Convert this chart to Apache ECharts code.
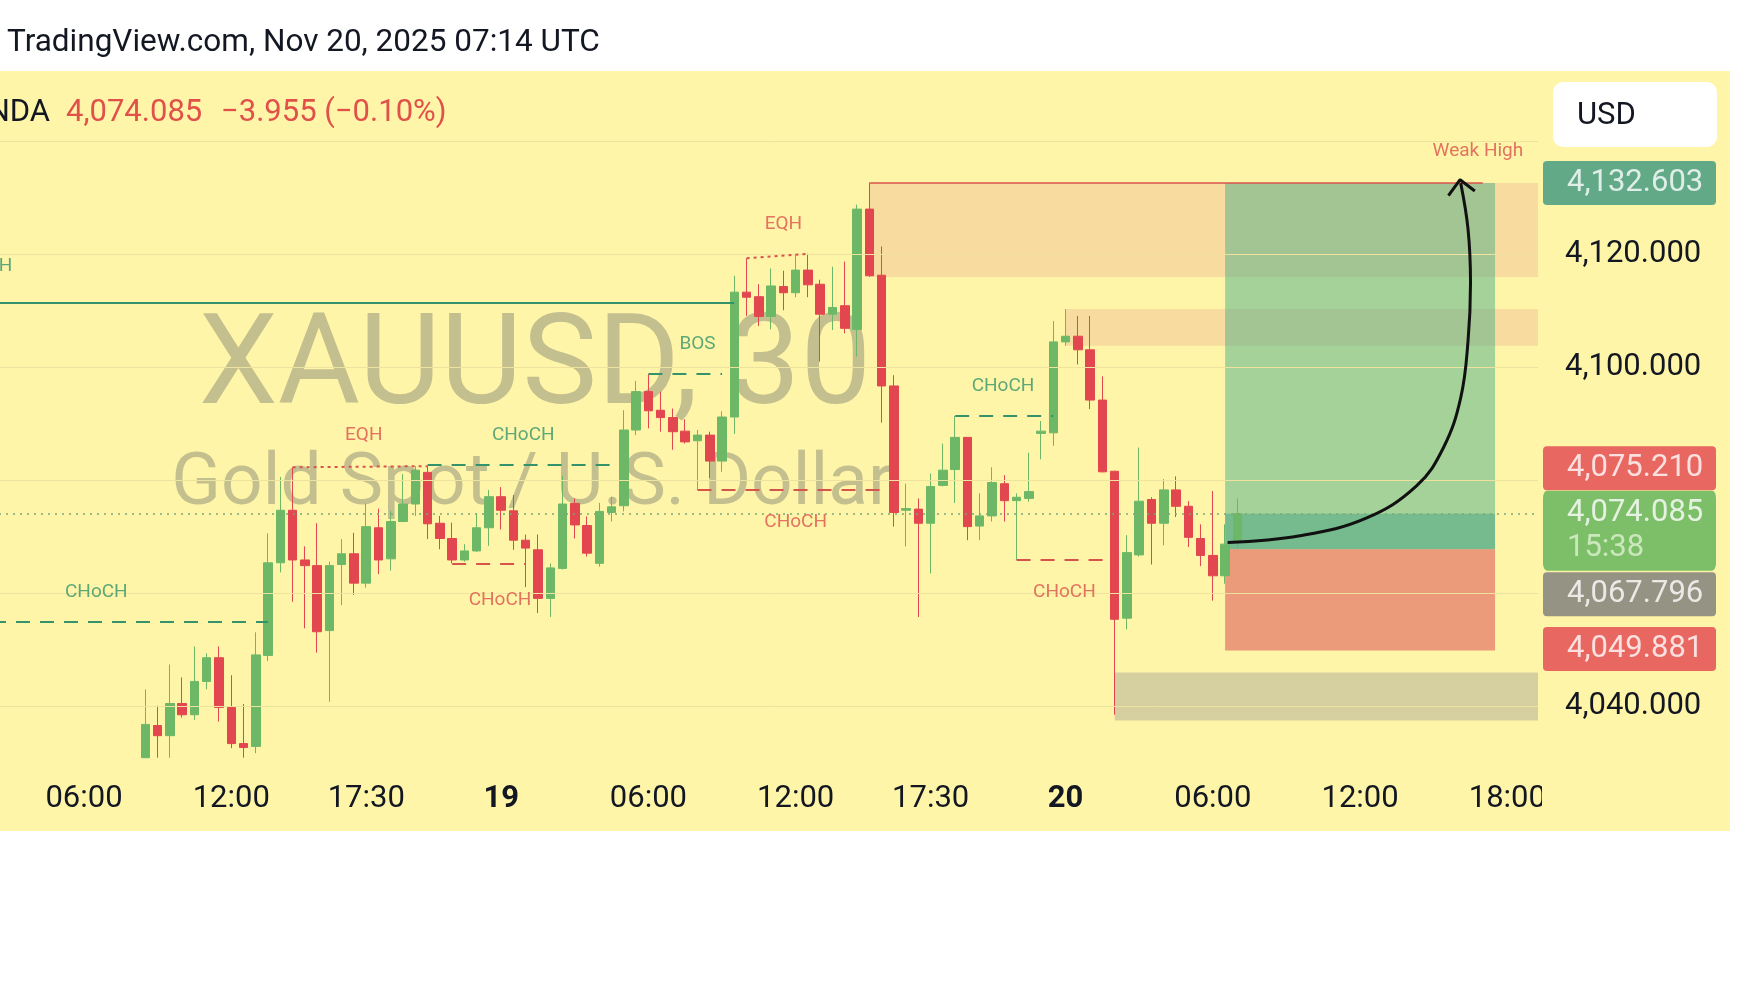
<!DOCTYPE html>
<html>
<head>
<meta charset="utf-8">
<title>XAUUSD 30</title>
<script src="https://cdn.jsdelivr.net/npm/echarts@6/dist/echarts.min.js"></script>
<style>
html, body { margin: 0; padding: 0; background: #fff; }
#chart { width: 1756px; height: 988px; }
</style>
</head>
<body>
<div id="chart"></div>
<script>
// 30 minute slots, market closed 22:00-23:00 UTC
function buildSlots(count) {
    const pad = n => (n < 10 ? '0' : '') + n
    const out = []
    let day = 18
    let min = 2 * 60 + 30
    while (out.length < count) {
        const h = Math.floor(min / 60)
        if (h !== 22) out.push(day + ' ' + pad(h) + ':' + pad(min % 60))
        min += 30
        if (min >= 1440) { min = 0; day++ }
    }
    return out
}
const categories = buildSlots(126)

// time axis tick labels
const tickLabels = {
    '18 06:00': '06:00', '18 12:00': '12:00', '18 17:30': '17:30', '19 00:00': '19',
    '19 06:00': '06:00', '19 12:00': '12:00', '19 17:30': '17:30', '20 00:00': '20',
    '20 06:00': '06:00', '20 12:00': '12:00', '20 18:00': '18:00'
}
const dayLabels = ['19', '20']
const priceTicks = [4040, 4100, 4120]

// candles [open, close, low, high]
const firstCandle = '18 08:30'
const candles18 = [
    [4030.9, 4036.8, 4030.9, 4043.0], [4036.6, 4034.8, 4030.9, 4040.1], [4034.8, 4040.5, 4030.9, 4047.4],
    [4040.5, 4038.5, 4038.0, 4045.1], [4038.5, 4044.4, 4037.6, 4050.6], [4044.4, 4048.6, 4043.0, 4049.4],
    [4048.6, 4039.8, 4037.3, 4050.6], [4039.8, 4033.4, 4032.6, 4045.5], [4033.4, 4032.7, 4030.9, 4040.4],
    [4032.9, 4049.1, 4031.7, 4053.1], [4049.0, 4065.4, 4048.0, 4070.6], [4065.4, 4074.7, 4063.7, 4080.6],
    [4074.7, 4065.9, 4058.5, 4082.3], [4065.9, 4064.9, 4053.8, 4068.3], [4064.9, 4053.2, 4049.5, 4072.4],
    [4053.4, 4064.9, 4040.8, 4065.6], [4065.1, 4067.0, 4057.9, 4069.6], [4067.0, 4061.8, 4059.7, 4070.7],
    [4061.8, 4071.8, 4061.0, 4075.9], [4071.6, 4065.9, 4063.4, 4075.0], [4066.1, 4072.7, 4064.0, 4074.6],
    [4072.7, 4075.8, 4072.7, 4081.1], [4075.8, 4081.8, 4073.7, 4082.5], [4081.4, 4072.3, 4069.6, 4082.5],
    [4072.4, 4069.7, 4067.8, 4073.7], [4069.7, 4065.9, 4065.3, 4072.5], [4065.9, 4067.5, 4065.6, 4068.7],
    [4067.5, 4071.6, 4067.3, 4074.2], [4071.6, 4077.1, 4068.4, 4078.3]
]
const candles19 = [
    [4077.1, 4074.7, 4071.3, 4078.8], [4074.6, 4069.4, 4067.7, 4077.4], [4069.4, 4068.0, 4061.1, 4070.4],
    [4067.7, 4059.1, 4056.5, 4070.4], [4059.1, 4064.5, 4055.8, 4065.3], [4064.4, 4075.8, 4064.2, 4080.8],
    [4075.9, 4072.1, 4069.7, 4076.8], [4072.0, 4067.1, 4066.5, 4073.6], [4065.3, 4074.5, 4064.7, 4076.0],
    [4074.3, 4075.3, 4072.7, 4077.1], [4075.5, 4088.9, 4074.5, 4092.4], [4088.9, 4095.7, 4088.0, 4097.6],
    [4095.7, 4092.3, 4089.2, 4098.8], [4092.4, 4091.1, 4088.6, 4095.7], [4091.1, 4088.6, 4085.4, 4092.7],
    [4088.7, 4086.8, 4086.5, 4090.8], [4087.0, 4088.0, 4078.3, 4088.9], [4088.0, 4083.4, 4080.4, 4088.6],
    [4083.4, 4091.2, 4081.5, 4092.2], [4091.2, 4113.3, 4088.2, 4116.2], [4113.3, 4112.4, 4109.1, 4119.3],
    [4112.5, 4109.0, 4107.3, 4114.7], [4109.0, 4114.4, 4106.7, 4117.5], [4114.3, 4113.2, 4110.1, 4117.1],
    [4113.2, 4117.2, 4112.4, 4120.1], [4117.2, 4114.6, 4112.4, 4120.1], [4114.7, 4109.4, 4101.0, 4115.5],
    [4109.4, 4110.6, 4106.6, 4117.8], [4110.9, 4106.9, 4106.0, 4118.7], [4106.7, 4128.0, 4101.9, 4128.8],
    [4128.0, 4116.2, 4116.0, 4132.6], [4116.3, 4096.7, 4090.2, 4121.4], [4096.7, 4074.3, 4071.8, 4098.6],
    [4074.7, 4075.0, 4068.3, 4079.4], [4074.9, 4072.4, 4055.8, 4076.8], [4072.4, 4078.9, 4063.5, 4081.2],
    [4079.1, 4081.8, 4078.9, 4086.5], [4081.9, 4087.6, 4076.0, 4091.4], [4087.6, 4071.8, 4069.4, 4087.6],
    [4071.9, 4073.7, 4069.4, 4077.7], [4073.7, 4079.6, 4072.7, 4082.3], [4079.4, 4076.4, 4072.7, 4080.9],
    [4076.4, 4077.0, 4065.9, 4077.7], [4076.8, 4078.0, 4076.2, 4084.9], [4088.3, 4088.7, 4083.7, 4090.5],
    [4088.4, 4104.5, 4086.1, 4108.2]
]
const candles20 = [
    [4104.5, 4105.5, 4103.8, 4110.3], [4105.5, 4103.1, 4100.5, 4109.1], [4103.1, 4094.2, 4092.6, 4109.1],
    [4094.2, 4081.5, 4081.4, 4098.4], [4081.6, 4055.4, 4038.5, 4081.7], [4055.6, 4067.2, 4053.6, 4070.3],
    [4066.8, 4076.3, 4066.5, 4085.8], [4076.6, 4072.4, 4065.1, 4077.0], [4072.4, 4078.3, 4068.5, 4080.2],
    [4078.3, 4075.4, 4073.5, 4080.7], [4075.4, 4069.9, 4068.2, 4076.3], [4069.7, 4066.7, 4064.8, 4072.2],
    [4066.7, 4063.1, 4058.7, 4078.1], [4063.1, 4068.7, 4061.7, 4072.2], [4069.0, 4074.085, 4067.8, 4076.8]
]

// structure lines [x1, y1, x2, y2, side, kind]  (x = candle index)
const structureLines = [
    [-0.5, 4111.4, 60, 4111.4, 'bull', 'solid'],
    [-0.5, 4055.0, 22, 4055.0, 'bull', 'dash'],
    [24, 4082.3, 35, 4082.5, 'bear', 'dot'],
    [35, 4082.7, 50, 4082.7, 'bull', 'dash'],
    [37, 4065.3, 43, 4065.3, 'bear', 'dash'],
    [53, 4098.8, 59, 4098.8, 'bull', 'dash'],
    [61, 4119.3, 66, 4120.1, 'bear', 'dot'],
    [57, 4078.3, 72, 4078.3, 'bear', 'dash'],
    [78, 4091.4, 86, 4091.4, 'bull', 'dash'],
    [83, 4065.9, 91, 4065.9, 'bear', 'dash'],
    [71, 4132.603, 121, 4132.603, 'bear', 'solid']
]
// structure labels [text, x, y, side]
const structureLabels = [
    ['CHoCH', -1.4, 4117.8, 'bull'],
    ['CHoCH', 8.0, 4060.1, 'bull'],
    ['EQH', 29.8, 4087.9, 'bear'],
    ['CHoCH', 42.8, 4087.9, 'bull'],
    ['CHoCH', 40.9, 4058.8, 'bear'],
    ['BOS', 57.0, 4104.0, 'bull'],
    ['EQH', 64.0, 4125.4, 'bear'],
    ['CHoCH', 65.0, 4072.5, 'bear'],
    ['CHoCH', 81.9, 4096.6, 'bull'],
    ['CHoCH', 86.9, 4060.1, 'bear'],
    ['Weak High', 120.6, 4138.3, 'bear']
]

// zones [fromIndex, top, bottom]
const supplyZones = [[71, 4132.603, 4116.0], [87, 4110.3, 4103.8]]
const demandZones = [[91, 4046.0, 4037.5]]

// long position
const positionFrom = 100
const positionTo = 122
const entryPrice = 4067.796
const targetPrice = 4132.603
const stopPrice = 4049.881
const lastPrice = 4074.085

// drawn arrow [x, price]
const arrowPath = [
    [100.2, 4069.0], [106.1, 4070.2], [111.5, 4073.3], [115.6, 4079.0], [117.8, 4085.8],
    [119.2, 4094.6], [119.8, 4104.7], [120.0, 4114.9], [119.8, 4124.4], [119.2, 4132.6]
]
const arrowHead = [[118.2, 4130.4], [119.15, 4133.2], [120.35, 4131.2]]

// price scale tags [text, value]
const priceTags = [
    ['4,132.603', 4132.603],
    ['4,075.210', 4075.210],
    ['4,074.085', 4074.085],
    ['4,067.796', 4067.796],
    ['4,049.881', 4049.881]
]

const BG = '#FFF5A8'
const UP = '#6DB866'
const DOWN = '#E2474F'
const BULL_LINE = '#35936C'
const BEAR_LINE = '#D9534D'
const FONT = 'Roboto'
// tag colours and the shift TradingView applies to keep them apart
const tagStyles = [
    { color: '#3A967E', dy: 0 },
    { color: '#E2434D', dy: -39 },
    { color: '#5DB257', dy: 17, sub: '15:38' },
    { color: '#7A7A7A', dy: 45 },
    { color: '#E2434D', dy: -1.5 }
]

const startIdx = categories.indexOf(firstCandle)
const allCandles = candles18.concat(candles19, candles20)
const candleData = categories.map((c, i) => {
    const k = i - startIdx
    return k >= 0 && k < allCandles.length ? allCandles[k] : '-'
})
const lastIdx = categories.length - 1

const dashTypes = { solid: 'solid', dash: [14, 10], dot: [3, 4] }
const lineData = structureLines.map(l => ({
    coords: [[l[0], l[1]], [l[2], l[3]]],
    lineStyle: {
        color: l[4] === 'bull' ? BULL_LINE : BEAR_LINE,
        type: dashTypes[l[5]],
        width: l[5] === 'solid' && l[4] === 'bear' ? 1.6 : 2,
        opacity: 1
    }
}))
// current price dotted line
lineData.push({
    coords: [[-0.5, lastPrice], [lastIdx + 0.5, lastPrice]],
    lineStyle: { color: '#78A878', type: [2, 5], width: 1.5, opacity: 1 }
})

const fmtPrice = v => v.toLocaleString('en-US', { minimumFractionDigits: 3, maximumFractionDigits: 3 })

const zoneArea = (zones, color) => zones.map(z => [
    { xAxis: z[0], yAxis: z[1], itemStyle: { color: color } },
    { xAxis: lastIdx + 0.5, yAxis: z[2] }
])

const chart = echarts.init(document.getElementById('chart'))

const option = {
    animation: false,
    backgroundColor: '#ffffff',
    grid: { left: -8, top: 28.3, width: 1546, height: 791, outerBoundsMode: 'none' },
    xAxis: [
        {
            type: 'category',
            data: categories,
            boundaryGap: true,
            offset: -37,
            z: 0,
            axisLine: { show: false },
            axisTick: { show: false },
            splitLine: { show: false },
            axisLabel: {
                interval: (i, v) => v in tickLabels,
                formatter: v => {
                    const t = tickLabels[v] || ''
                    return dayLabels.indexOf(t) >= 0 ? '{b|' + t + '}' : t
                },
                margin: 17,
                verticalAlign: 'middle',
                color: '#131722',
                fontSize: 31,
                fontFamily: FONT,
                rich: { b: { fontSize: 31, fontWeight: 'bold', fontFamily: FONT, color: '#131722' } }
            }
        },
        { type: 'value', min: -0.5, max: lastIdx + 0.5, show: false }
    ],
    yAxis: {
        type: 'value',
        position: 'right',
        min: 4020,
        max: 4160,
        interval: 20,
        z: 3,
        axisLine: { show: false },
        axisTick: { show: false },
        splitLine: {
            show: true,
            showMinLine: false,
            showMaxLine: false,
            lineStyle: { color: '#EDE39E', width: 1 }
        },
        axisLabel: {
            margin: 27,
            color: '#131722',
            fontSize: 31,
            fontFamily: FONT,
            formatter: v => (priceTicks.indexOf(v) >= 0 ? fmtPrice(v) : '')
        }
    },
    graphic: [
        { type: 'rect', z: -10, silent: true, shape: { x: 0, y: 71, width: 1730, height: 760 }, style: { fill: BG } },
        { type: 'text', z: -5, silent: true, x: 535, y: 371,
          style: { text: 'XAUUSD, 30', font: '126px Roboto', fill: '#C4BF8E', align: 'center', verticalAlign: 'middle' } },
        { type: 'text', z: -5, silent: true, x: 532, y: 486,
          style: { text: 'Gold Spot / U.S. Dollar', font: '73px Roboto', fill: '#C4BF8E', align: 'center', verticalAlign: 'middle' } },
        { type: 'text', silent: true, x: 7, y: 43,
          style: { text: 'TradingView.com, Nov 20, 2025 07:14 UTC', font: '31.5px Roboto', fill: '#131722', verticalAlign: 'middle' } },
        { type: 'text', silent: true, x: 50, y: 113.5,
          style: { text: 'NDA', font: '31px Roboto', fill: '#131722', align: 'right', verticalAlign: 'middle' } },
        { type: 'text', silent: true, x: 66, y: 113.5,
          style: { text: '4,074.085', font: '31px Roboto', fill: '#E0514A', verticalAlign: 'middle' } },
        { type: 'text', silent: true, x: 221, y: 113.5,
          style: { text: '\u22123.955 (\u22120.10%)', font: '31px Roboto', fill: '#E0514A', verticalAlign: 'middle' } },
        { type: 'rect', z: 10, silent: true, shape: { x: 1553, y: 82, width: 164, height: 65, r: 10 }, style: { fill: '#ffffff' } },
        { type: 'text', z: 11, silent: true, x: 1577, y: 116,
          style: { text: 'USD', font: '31px Roboto', fill: '#131722', verticalAlign: 'middle' } },
        // price scale hides the end of the time axis
        { type: 'rect', z: 10, silent: true, shape: { x: 1542, y: 772, width: 188, height: 50 }, style: { fill: BG } }
    ],
    series: [
        {
            name: 'zones',
            type: 'line',
            xAxisIndex: 1,
            data: [],
            z: 1,
            markArea: {
                silent: true,
                data: zoneArea(supplyZones, 'rgba(238,183,148,0.42)')
                    .concat(zoneArea(demandZones, 'rgba(118,118,138,0.3)'))
            }
        },
        {
            name: 'XAUUSD',
            type: 'candlestick',
            data: candleData,
            z: 2,
            barWidth: 9,
            itemStyle: {
                color: UP,
                color0: DOWN,
                borderColor: UP,
                borderColor0: DOWN,
                borderWidth: 1
            }
        },
        {
            name: 'structure',
            type: 'lines',
            coordinateSystem: 'cartesian2d',
            xAxisIndex: 1,
            z: 3,
            silent: true,
            lineStyle: { opacity: 1 },
            data: lineData
        },
        {
            name: 'labels',
            type: 'scatter',
            xAxisIndex: 1,
            z: 3,
            clip: false,
            silent: true,
            symbolSize: 0,
            data: structureLabels.map(l => ({ value: [l[1], l[2]], name: l[0], side: l[3] })),
            label: {
                show: true,
                position: 'inside',
                fontSize: 19,
                fontFamily: FONT,
                formatter: p => p.name
            },
            labelLayout: { hideOverlap: false }
        },
        {
            name: 'position',
            type: 'line',
            xAxisIndex: 1,
            data: [],
            z: 4,
            markArea: {
                silent: true,
                data: [
                    [{ xAxis: positionFrom, yAxis: targetPrice, itemStyle: { color: 'rgba(75,175,135,0.5)' } },
                     { xAxis: positionTo, yAxis: entryPrice }],
                    [{ xAxis: positionFrom, yAxis: lastPrice, itemStyle: { color: 'rgba(60,160,130,0.45)' } },
                     { xAxis: positionTo, yAxis: entryPrice }],
                    [{ xAxis: positionFrom, yAxis: entryPrice, itemStyle: { color: 'rgba(223,95,92,0.6)' } },
                     { xAxis: positionTo, yAxis: stopPrice }]
                ]
            }
        },
        {
            name: 'arrow',
            type: 'line',
            xAxisIndex: 1,
            z: 5,
            silent: true,
            smooth: 0.4,
            symbol: 'none',
            data: arrowPath,
            lineStyle: { color: '#111111', width: 3 }
        },
        {
            name: 'arrowHead',
            type: 'line',
            xAxisIndex: 1,
            z: 5,
            silent: true,
            symbol: 'none',
            data: arrowHead,
            lineStyle: { color: '#111111', width: 3 }
        },
        {
            name: 'tags',
            type: 'scatter',
            xAxisIndex: 1,
            z: 8,
            clip: false,
            silent: true,
            symbol: 'path://M4,0 H169 A4,4 0 0 1 173,4 V40 A4,4 0 0 1 169,44 H4 A4,4 0 0 1 0,40 V4 A4,4 0 0 1 4,0 Z',
            data: priceTags.map((t, i) => {
                const s = tagStyles[i]
                return {
                    value: [lastIdx + 0.5, t[1]],
                    name: t[0],
                    symbolSize: s.sub ? [173, 80] : [173, 44],
                    symbolOffset: [91.5, s.dy],
                    itemStyle: { color: s.color },
                    label: {
                        formatter: s.sub ? '{p|' + t[0] + '}\n{s|' + s.sub + '}' : t[0]
                    }
                }
            }),
            label: {
                show: true,
                position: [24, '50%'],
                align: 'left',
                verticalAlign: 'middle',
                color: '#ffffff',
                fontSize: 31,
                fontFamily: FONT,
                rich: {
                    p: { color: '#ffffff', fontSize: 31, fontFamily: FONT, lineHeight: 35 },
                    s: { color: '#DDF2CF', fontSize: 31, fontFamily: FONT, lineHeight: 35 }
                }
            },
            labelLayout: { hideOverlap: false }
        }
    ]
}

// label colours follow the structure side
option.series[3].data.forEach(d => {
    d.label = { color: d.side === 'bull' ? BULL_LINE : BEAR_LINE }
})

chart.setOption(option)
</script>
</body>
</html>
